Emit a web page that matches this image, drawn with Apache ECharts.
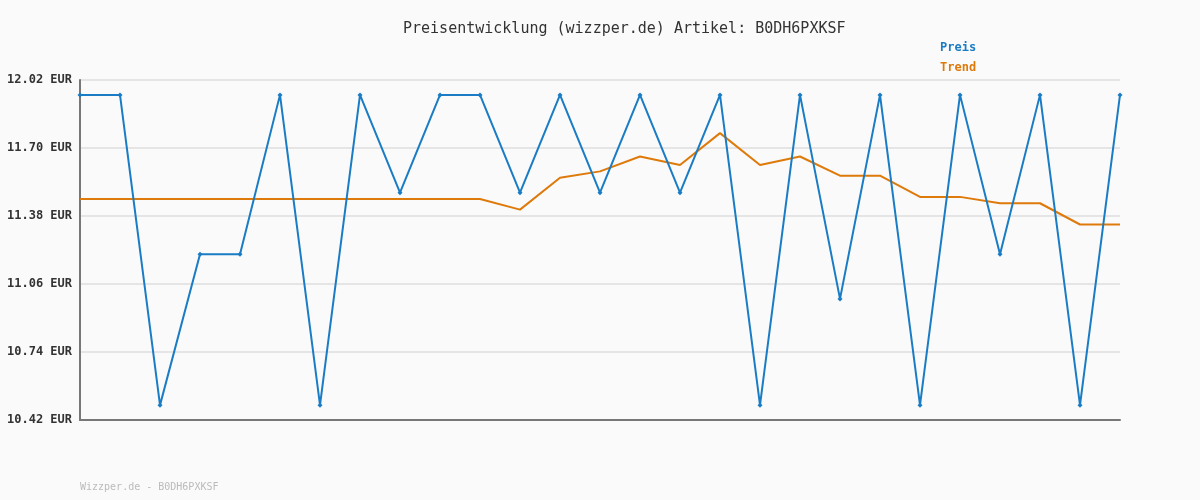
<!DOCTYPE html>
<html>
<head>
<meta charset="utf-8">
<title>Preisentwicklung</title>
<script src="https://cdn.jsdelivr.net/npm/echarts@6/dist/echarts.min.js"></script>
<style>
  html, body { margin: 0; padding: 0; background: #fafafa; }
  #chartMain { width: 1200px; height: 500px; }
</style>
</head>
<body>
<div id="chartMain"></div>
<script>
// Daten
var categories = ['1', '2', '3', '4', '5', '6', '7', '8', '9', '10', '11', '12', '13', '14',
  '15', '16', '17', '18', '19', '20', '21', '22', '23', '24', '25', '26', '27']
var preis = [11.95, 11.95, 10.49, 11.20, 11.20, 11.95, 10.49, 11.95, 11.49, 11.95, 11.95, 11.49, 11.95, 11.49,
  11.95, 11.49, 11.95, 10.49, 11.95, 10.99, 11.95, 10.49, 11.95, 11.20, 11.95, 10.49, 11.95]
var trend = [11.46, 11.46, 11.46, 11.46, 11.46, 11.46, 11.46, 11.46, 11.46, 11.46, 11.46, 11.41, 11.56, 11.59,
  11.66, 11.62, 11.77, 11.62, 11.66, 11.57, 11.57, 11.47, 11.47, 11.44, 11.44, 11.34, 11.34]
var yTicks = [10.42, 10.74, 11.06, 11.38, 11.70, 12.02]

var mono = 'DejaVu Sans Mono'
var chart = echarts.init(document.getElementById('chartMain'))

var option = {
  backgroundColor: '#fafafa',
  animation: false,
  title: [
    {
      text: 'Preisentwicklung (wizzper.de) Artikel: B0DH6PXKSF',
      left: 398,
      top: 17,
      textStyle: { fontFamily: mono, fontSize: 15, fontWeight: 'normal', color: '#333' }
    },
    {
      text: 'Wizzper.de - B0DH6PXKSF',
      left: 75,
      top: 477,
      textStyle: { fontFamily: mono, fontSize: 10, fontWeight: 'normal', color: '#bbb' }
    }
  ],
  legend: {
    orient: 'vertical',
    left: 930,
    top: 37,
    itemWidth: 0,
    itemHeight: 0,
    itemGap: 8,
    icon: 'rect',
    selectedMode: false,
    data: [
      { name: 'Preis', textStyle: { color: '#1a7cc4' } },
      { name: 'Trend', textStyle: { color: '#de7a0a' } }
    ],
    textStyle: { fontFamily: mono, fontSize: 12, fontWeight: 'bold' }
  },
  grid: {
    left: 80,
    right: 80,
    top: 80,
    bottom: 80
  },
  xAxis: {
    type: 'category',
    boundaryGap: false,
    data: categories,
    axisLine: { show: true, lineStyle: { color: '#777', width: 2 } },
    axisTick: { show: false },
    axisLabel: { show: false },
    splitLine: { show: false }
  },
  yAxis: {
    type: 'value',
    min: 10.42,
    max: 12.02,
    axisLine: { show: true, lineStyle: { color: '#777', width: 2 } },
    axisTick: { show: false, customValues: yTicks },
    axisLabel: {
      customValues: yTicks,
      margin: 8,
      fontFamily: mono,
      fontSize: 12,
      fontWeight: 'bold',
      color: '#333',
      formatter: function (v) { return v.toFixed(2) + ' EUR' }
    },
    splitLine: { show: true, lineStyle: { color: '#e5e5e5', width: 2 } }
  },
  series: [
    {
      name: 'Preis',
      type: 'line',
      data: preis,
      color: '#1a7cc4',
      symbol: 'diamond',
      symbolSize: 5,
      lineStyle: { width: 2, color: '#1a7cc4' },
      itemStyle: { color: '#1a7cc4' },
      z: 3
    },
    {
      name: 'Trend',
      type: 'line',
      data: trend,
      color: '#de7a0a',
      symbol: 'none',
      lineStyle: { width: 2, color: '#de7a0a' },
      z: 2
    }
  ]
}

chart.setOption(option, true)
</script>
</body>
</html>
